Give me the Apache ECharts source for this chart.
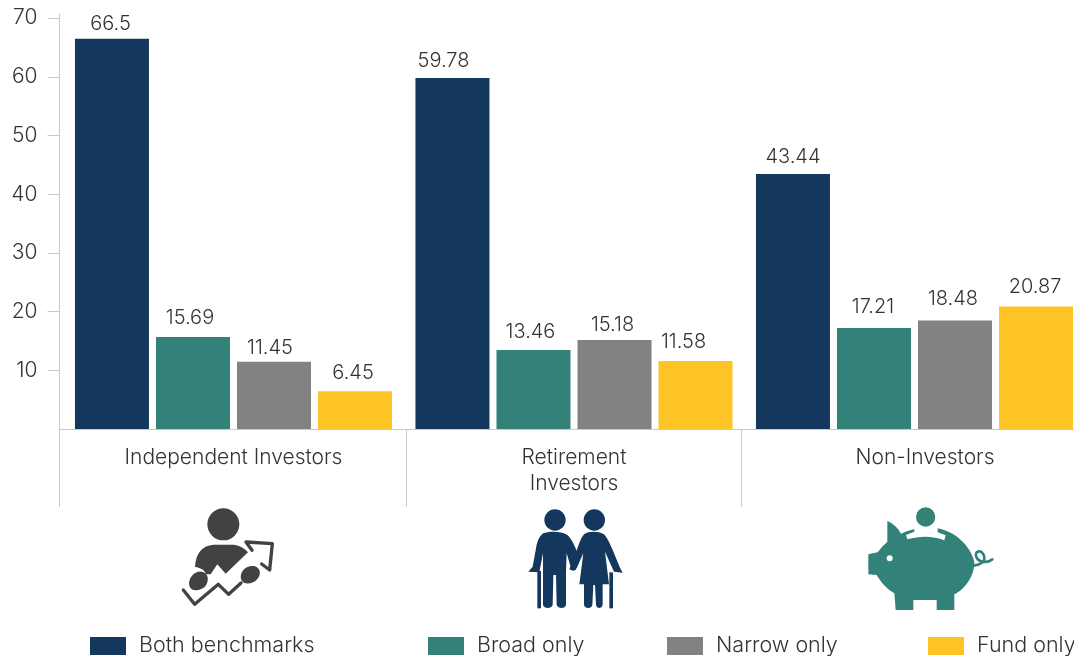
<!DOCTYPE html>
<html>
<head>
<meta charset="utf-8">
<style>html,body{margin:0;padding:0;background:#fff;overflow:hidden}#c{width:1074px;height:656px}</style>
<script src="https://cdn.jsdelivr.net/npm/echarts@6/dist/echarts.min.js"></script>
</head>
<body>
<div id="c"></div>
<script>
const categories = ['Independent Investors', 'Retirement\nInvestors', 'Non-Investors'];
const seriesNames = ['Both benchmarks', 'Broad only', 'Narrow only', 'Fund only'];
const bothBenchmarks = [66.5, 59.78, 43.44];
const broadOnly = [15.69, 13.46, 17.21];
const narrowOnly = [11.45, 15.18, 18.48];
const fundOnly = [6.45, 11.58, 20.87];
const yTicks = [10, 20, 30, 40, 50, 60, 70];

const colors = ['#14375e', '#33827a', '#818281', '#fec325'];
const allValues = [bothBenchmarks, broadOnly, narrowOnly, fundOnly];
// label nudges [dx, dy] per series, per category
const labelNudges = [
  [[-1.5, -1], [-9, -4], [0, -4]],
  [[-3, -5], [-3, -5], [-1, -7]],
  [[-4, 0], [-2, -1], [-2, -8]],
  [[-2, -5], [-12, -6], [-1, -6]]
];
const legendLeft = [90, 428, 667, 928];
const font = 'Inter';
const textColor = '#333333';
const ruleColor = '#c9c9c9';

const chart = echarts.init(document.getElementById('c'), null, {renderer: 'canvas'});

const sepLine = (x) => ({type: 'line', silent: true, shape: {x1: x, y1: 429, x2: x, y2: 507}, style: {stroke: ruleColor, lineWidth: 1}});

const grey = '#424242';
const navy = '#14375e';
const teal = '#33827a';
const icon1 = {
  type: 'group', x: 160, y: 495, scaleX: 1 / 3, scaleY: 1 / 3,
  children: [
    {type: 'circle', shape: {cx: 190, cy: 88, r: 48}, style: {fill: grey}},
    {type: 'path', shape: {pathData: 'M105 215 C108 175 125 152 160 149 L222 149 C240 152 255 160 264 172 L197 236 L172 208 L152 238 L138 238 C135 225 120 218 105 215 Z'}, style: {fill: grey}},
    {type: 'path', shape: {pathData: 'M70 285 L104 328 L175 268 L206 298 L243 264 M305 207 L329 225 L337 146 L258 141 L276 166'}, style: {fill: 'none', stroke: grey, lineWidth: 10, lineJoin: 'round', lineCap: 'round'}},
    {type: 'path', shape: {pathData: 'M88 272 C83 250 103 228 125 230 C147 233 147 258 137 272 C124 288 93 292 88 272 Z'}, style: {fill: grey}},
    {type: 'path', shape: {pathData: 'M243 252 C238 230 258 210 282 213 C303 218 304 240 292 252 C280 268 248 272 243 252 Z'}, style: {fill: grey}}
  ]
};
const icon2 = {
  type: 'group', x: 510, y: 495, scaleX: 1 / 3, scaleY: 1 / 3,
  children: [
    {type: 'circle', shape: {cx: 135, cy: 75, r: 32}, style: {fill: navy}},
    {type: 'circle', shape: {cx: 253, cy: 75, r: 32}, style: {fill: navy}},
    {type: 'path', shape: {pathData: 'M100 115 C115 108 155 108 172 120 C185 130 195 155 210 190 C205 215 195 230 185 226 L170 175 L168 230 L168 330 C165 342 145 342 140 330 L138 240 L130 240 L128 330 C125 342 102 342 99 330 L99 175 L88 232 L55 230 L68 215 L78 160 C82 135 90 122 100 115 Z'}, style: {fill: navy}},
    {type: 'path', shape: {pathData: 'M222 118 C235 108 265 108 282 118 C295 130 310 170 330 218 L338 233 L312 230 L285 170 L297 268 L278 268 L278 330 C275 342 260 342 258 330 L255 270 L250 270 L247 330 C245 342 225 342 222 330 L222 268 L208 268 L220 175 L197 225 C190 228 180 225 178 222 L195 185 C205 150 212 130 222 118 Z'}, style: {fill: navy}},
    {type: 'rect', shape: {x: 82, y: 228, width: 11, height: 112}, style: {fill: navy}},
    {type: 'rect', shape: {x: 298, y: 232, width: 11, height: 108}, style: {fill: navy}}
  ]
};
const icon3 = {
  type: 'group', x: 855, y: 495, scaleX: 1 / 3, scaleY: 1 / 3,
  children: [
    {type: 'path', shape: {pathData: 'M97 78 C115 85 130 100 138 116 C165 102 215 92 248 100 C300 110 345 150 358 200 C360 235 335 280 298 298 L298 345 L245 345 L245 315 L175 315 L175 345 L122 345 L118 295 C95 282 78 262 65 240 L40 238 L40 178 L68 172 C78 158 88 148 97 140 Z'}, style: {fill: teal}},
    {type: 'path', shape: {pathData: 'M178 90 L178 110 L153 120 L157 133 C195 122 235 122 268 136 L272 121 L248 112 L248 90 Z'}, style: {fill: '#fff'}},
    {type: 'circle', shape: {cx: 212, cy: 66, r: 29}, style: {fill: teal}},
    {type: 'circle', shape: {cx: 104, cy: 190, r: 9}, style: {fill: '#fff'}},
    {type: 'path', shape: {pathData: 'M355 212 C380 208 395 198 385 178 C375 160 356 172 365 188 C372 202 395 206 412 193'}, style: {fill: 'none', stroke: teal, lineWidth: 8, lineCap: 'round'}}
  ]
};

chart.setOption({
  animation: false,
  backgroundColor: '#ffffff',
  textStyle: {fontFamily: font},
  grid: {left: 63.25, top: 14, width: 1021.5, height: 415, containLabel: false, outerBoundsMode: 'none'},
  legend: seriesNames.map((n, i) => ({
    data: [n], left: legendLeft[i], top: 635, padding: 0, orient: 'horizontal',
    selectedMode: false, icon: 'rect', itemWidth: 36, itemHeight: 18,
    textStyle: {fontFamily: font, fontWeight: 300, fontSize: 21.5, color: textColor, padding: [0, 0, 0, 8]}
  })),
  xAxis: {
    type: 'category', data: categories,
    axisLine: {show: true, lineStyle: {color: ruleColor, width: 1}},
    axisTick: {show: false},
    axisLabel: {
      margin: 16, interval: 0, fontFamily: font, fontWeight: 300, fontSize: 21, color: textColor, lineHeight: 26,
      formatter: (v) => v === 'Non-Investors' ? '{s|' + v + '}' : v,
      rich: {s: {padding: [0, 0, 0, 21], fontFamily: font, fontWeight: 300, fontSize: 21, color: textColor, lineHeight: 26}}
    }
  },
  yAxis: {
    type: 'value', min: 0, max: 70.7, offset: 3.75,
    splitLine: {show: false},
    axisLine: {show: true, lineStyle: {color: ruleColor, width: 1}},
    axisTick: {show: true, length: 12, customValues: yTicks, lineStyle: {color: ruleColor, width: 1}},
    axisLabel: {customValues: yTicks, margin: 22, fontFamily: font, fontWeight: 300, fontSize: 21, color: textColor}
  },
  series: seriesNames.map((n, i) => ({
    name: n, type: 'bar', barWidth: 74, barGap: '9.5%',
    itemStyle: {color: colors[i]},
    data: allValues[i].map((v, j) => ({
      value: v,
      label: {offset: labelNudges[i][j]}
    })),
    label: {show: true, position: 'top', distance: 3.5, fontFamily: font, fontWeight: 300, fontSize: 20, color: textColor}
  })).concat([{
    type: 'custom', coordinateSystem: 'none', silent: true, clip: false, data: [0],
    renderItem: () => ({type: 'group', children: [icon1, icon2, icon3]})
  }]),
  graphic: [
    {type: 'line', silent: true, shape: {x1: 59.5, y1: 429.5, x2: 64, y2: 429.5}, style: {stroke: ruleColor, lineWidth: 1}},
    sepLine(59.5), sepLine(406.5), sepLine(741.5)
  ]
});
</script>
</body>
</html>
